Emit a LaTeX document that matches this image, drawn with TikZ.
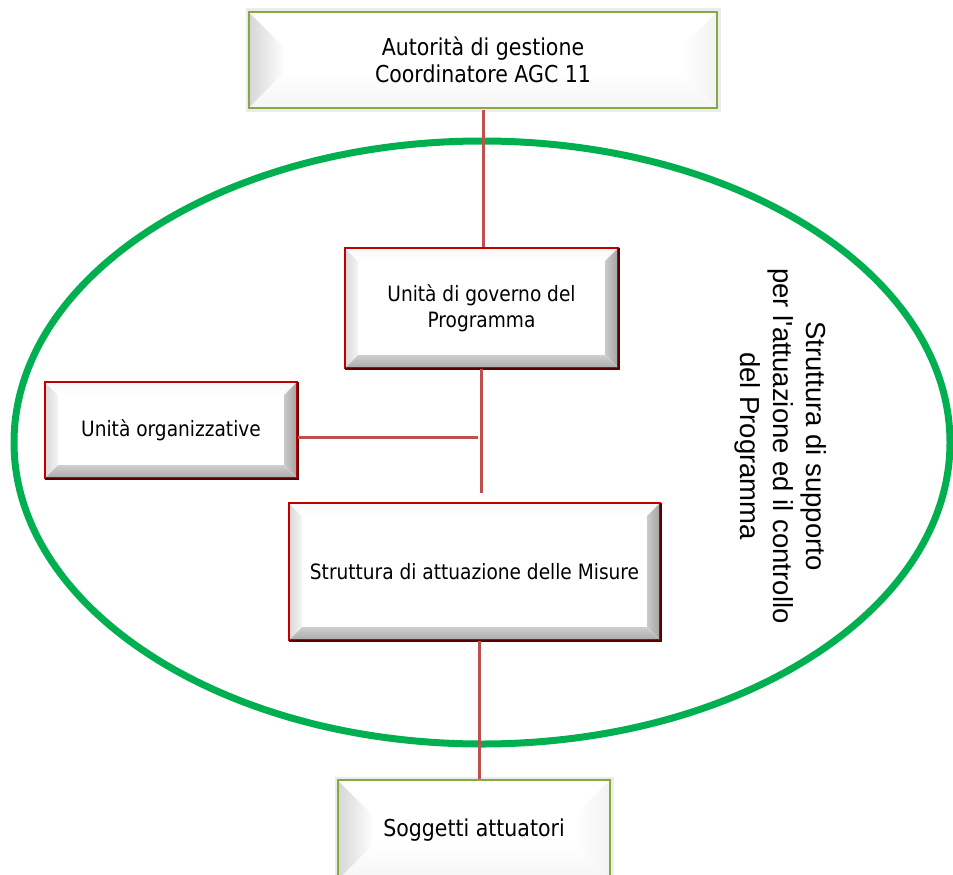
\documentclass[tikz,border=0pt]{standalone}
\usepackage{fontspec}
\setmainfont[FakeStretch=0.88]{DejaVu Sans}
\newfontfamily\arialfont[Ligatures=TeXOff]{Liberation Sans}
\usetikzlibrary{calc}

\definecolor{ringgreen}{HTML}{00B050}
\definecolor{linkred}{HTML}{C0504D}
\definecolor{boxred}{HTML}{C00000}
\definecolor{boxredshade}{HTML}{5A0000}
\definecolor{boxolive}{HTML}{86A845}

% Bevelled fill: #1 depth, then outer/inner colours for left, top, right, bottom
\newcommand\bevelshade[9]{%
  \coordinate (bNW) at (path picture bounding box.north west);
  \coordinate (bNE) at (path picture bounding box.north east);
  \coordinate (bSW) at (path picture bounding box.south west);
  \coordinate (bSE) at (path picture bounding box.south east);
  \fill[left color=#2, right color=#3]
    (bNW) -- ($(bNW)+(#1,-#1)$) -- ($(bSW)+(#1,#1)$) -- (bSW) -- cycle;
  \fill[top color=#4, bottom color=#5]
    (bNW) -- (bNE) -- ($(bNE)+(-#1,-#1)$) -- ($(bNW)+(#1,-#1)$) -- cycle;
  \fill[right color=#6, left color=#7]
    (bNE) -- (bSE) -- ($(bSE)+(-#1,#1)$) -- ($(bNE)+(-#1,-#1)$) -- cycle;
  \fill[bottom color=#8, top color=#9]
    (bSW) -- (bSE) -- ($(bSE)+(-#1,#1)$) -- ($(bSW)+(#1,#1)$) -- cycle;
}

% Dark edge along the right and bottom sides of a red box
\newcommand\redshadow[1]{%
  \draw[boxredshade,line width=1.4pt]
    ([yshift=-1pt]#1.north east) -- (#1.south east) -- ([xshift=1pt]#1.south west);
}

\begin{document}
\begin{tikzpicture}[x=1pt,y=-1pt,
  conn/.style={draw=linkred,line width=3pt},
  redbox/.style={draw=boxred,line width=1.6pt,fill=white,inner sep=0pt,
    align=center,font=\fontsize{21.1}{26}\selectfont,
    path picture={\bevelshade{13pt}{gray!30}{gray!8}{gray!6}{white}{gray!72}{gray!42}{gray!66}{gray!38}}},
  olivebox/.style={draw=boxolive,line width=1.6pt,fill=white,inner sep=0pt,
    align=center,font=\fontsize{23.3}{27}\selectfont,
    preaction={draw=gray!15,line width=7pt},
    path picture={\bevelshade{36pt}{gray!32}{white}{white}{white}{gray!10}{white}{gray!8}{white}}},
]
\fill[white] (0,0) rectangle (953,875);
\useasboundingbox (0,0) rectangle (953,875);
\clip (0,0) rectangle (953,875);

% enclosing support structure
\draw[ringgreen,line width=7pt] (482,442.5) ellipse [x radius=468pt, y radius=301.5pt];

% connectors
\coordinate (jn) at (482,493);
\coordinate (jw) at (478,437);

% boxes
\node[olivebox,minimum width=468pt,minimum height=96pt] (auth) at (483,60)
  {Autorità di gestione\\Coordinatore AGC 11};
\node[redbox,minimum width=273pt,minimum height=120pt] (gov) at (481.5,308)
  {Unità di governo del\\Programma};
\node[redbox,minimum width=252pt,minimum height=96pt] (org) at (171,430)
  {Unità organizzative};
\node[redbox,minimum width=371pt,minimum height=137pt] (str) at (474.5,571.5)
  {Struttura di attuazione delle Misure};
\node[olivebox,minimum width=272pt,minimum height=100pt] (sog) at (474,830)
  {Soggetti attuatori};

\redshadow{gov}
\redshadow{org}
\redshadow{str}

\draw[conn] ([yshift=-1pt]auth.south) -- (auth.south |- gov.north);
\draw[conn] (gov.south) -- (gov.south |- jn);
\draw[conn] (org.east |- jw) -- (jw);
\draw[conn] ([xshift=4.5pt]str.south) -- ([xshift=4.5pt]str.south |- sog.north);

% side label
\node[rotate=-90,align=center,font=\arialfont\fontsize{27.5}{33}\selectfont] (lbl) at (781,446)
  {Struttura di supporto\\per l'attuazione ed il controllo\\del Programma};
\end{tikzpicture}
\end{document}
